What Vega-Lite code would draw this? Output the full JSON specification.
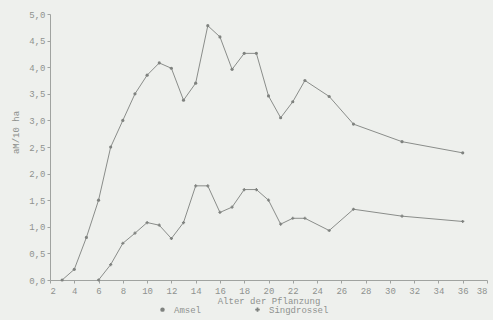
{
  "$schema": "https://vega.github.io/schema/vega-lite/v6.json",
  "width": 437,
  "height": 266,
  "autosize": {"type": "none"},
  "padding": {"left": 50, "top": 14, "right": 6, "bottom": 40},
  "background": "#eef0ed",
  "config": {
    "view": {"stroke": null},
    "font": "Liberation Mono",
    "axis": {"labelFont": "Liberation Mono", "titleFont": "Liberation Mono", "labelFontSize": 9, "titleFontSize": 9, "labelColor": "#8f928f", "titleColor": "#8f928f", "domainColor": "#a0a3a0", "tickColor": "#a0a3a0", "grid": false, "titleFontWeight": "normal", "tickSize": 3},
    "legend": {"labelFont": "Liberation Mono", "labelFontSize": 9, "labelColor": "#8f928f"}
  },
  "data": {"values": [
    {"alter": 3, "wert": 0, "art": "Amsel"},
    {"alter": 4, "wert": 0.2, "art": "Amsel"},
    {"alter": 5, "wert": 0.8, "art": "Amsel"},
    {"alter": 6, "wert": 1.5, "art": "Amsel"},
    {"alter": 7, "wert": 2.5, "art": "Amsel"},
    {"alter": 8, "wert": 3.0, "art": "Amsel"},
    {"alter": 9, "wert": 3.5, "art": "Amsel"},
    {"alter": 10, "wert": 3.85, "art": "Amsel"},
    {"alter": 11, "wert": 4.08, "art": "Amsel"},
    {"alter": 12, "wert": 3.98, "art": "Amsel"},
    {"alter": 13, "wert": 3.38, "art": "Amsel"},
    {"alter": 14, "wert": 3.7, "art": "Amsel"},
    {"alter": 15, "wert": 4.78, "art": "Amsel"},
    {"alter": 16, "wert": 4.57, "art": "Amsel"},
    {"alter": 17, "wert": 3.96, "art": "Amsel"},
    {"alter": 18, "wert": 4.26, "art": "Amsel"},
    {"alter": 19, "wert": 4.26, "art": "Amsel"},
    {"alter": 20, "wert": 3.46, "art": "Amsel"},
    {"alter": 21, "wert": 3.05, "art": "Amsel"},
    {"alter": 22, "wert": 3.35, "art": "Amsel"},
    {"alter": 23, "wert": 3.75, "art": "Amsel"},
    {"alter": 25, "wert": 3.45, "art": "Amsel"},
    {"alter": 27, "wert": 2.93, "art": "Amsel"},
    {"alter": 31, "wert": 2.6, "art": "Amsel"},
    {"alter": 36, "wert": 2.39, "art": "Amsel"},
    {"alter": 6, "wert": 0, "art": "Singdrossel"},
    {"alter": 7, "wert": 0.29, "art": "Singdrossel"},
    {"alter": 8, "wert": 0.69, "art": "Singdrossel"},
    {"alter": 9, "wert": 0.88, "art": "Singdrossel"},
    {"alter": 10, "wert": 1.08, "art": "Singdrossel"},
    {"alter": 11, "wert": 1.03, "art": "Singdrossel"},
    {"alter": 12, "wert": 0.78, "art": "Singdrossel"},
    {"alter": 13, "wert": 1.08, "art": "Singdrossel"},
    {"alter": 14, "wert": 1.77, "art": "Singdrossel"},
    {"alter": 15, "wert": 1.77, "art": "Singdrossel"},
    {"alter": 16, "wert": 1.27, "art": "Singdrossel"},
    {"alter": 17, "wert": 1.37, "art": "Singdrossel"},
    {"alter": 18, "wert": 1.7, "art": "Singdrossel"},
    {"alter": 19, "wert": 1.7, "art": "Singdrossel"},
    {"alter": 20, "wert": 1.5, "art": "Singdrossel"},
    {"alter": 21, "wert": 1.05, "art": "Singdrossel"},
    {"alter": 22, "wert": 1.16, "art": "Singdrossel"},
    {"alter": 23, "wert": 1.16, "art": "Singdrossel"},
    {"alter": 25, "wert": 0.93, "art": "Singdrossel"},
    {"alter": 27, "wert": 1.33, "art": "Singdrossel"},
    {"alter": 31, "wert": 1.2, "art": "Singdrossel"},
    {"alter": 36, "wert": 1.1, "art": "Singdrossel"}
  ]},
  "encoding": {
    "x": {"field": "alter", "type": "quantitative", "scale": {"domain": [2, 38], "nice": false, "zero": false},
      "axis": {"values": [2,4,6,8,10,12,14,16,18,20,22,24,26,28,30,32,34,36,38], "title": "Alter der Pflanzung", "labelPadding": 3, "titlePadding": 1}},
    "y": {"field": "wert", "type": "quantitative", "scale": {"domain": [0, 5], "nice": false},
      "axis": {"values": [0,0.5,1,1.5,2,2.5,3,3.5,4,4.5,5], "labelExpr": "replace(format(datum.value, '.1f'), '.', ',')", "title": "aM/10 ha", "titleY": 118, "titlePadding": 8}}
  },
  "layer": [
    {
      "mark": {"type": "line", "color": "#8a8d8a", "strokeWidth": 1},
      "encoding": {"detail": {"field": "art"}}
    },
    {
      "mark": {"type": "point", "filled": true, "size": 10, "color": "#7f827f", "opacity": 1},
      "encoding": {
        "shape": {"field": "art", "type": "nominal", "scale": {"domain": ["Amsel", "Singdrossel"], "range": ["circle", "cross"]},
          "legend": {"title": null, "orient": "none", "direction": "horizontal", "legendX": 108, "legendY": 291, "symbolSize": 20, "symbolFillColor": "#7f827f", "symbolStrokeColor": "#7f827f", "columnPadding": 50, "labelOffset": 7}}
      }
    }
  ]
}
